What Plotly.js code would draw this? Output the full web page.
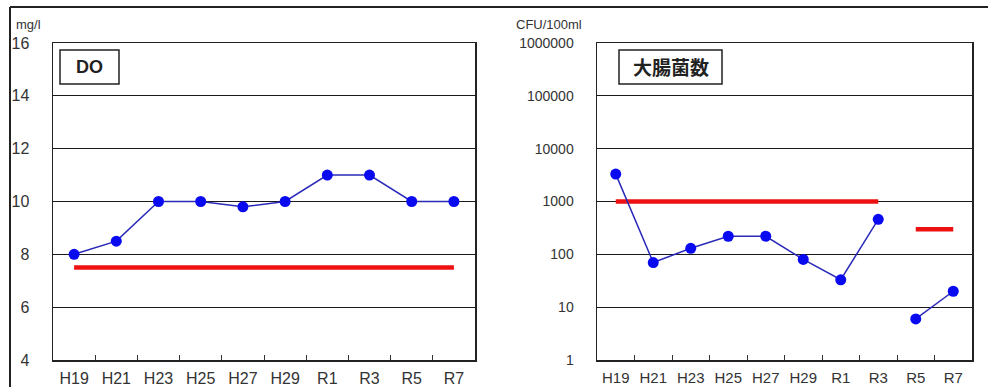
<!DOCTYPE html>
<html>
<head>
<meta charset="utf-8">
<script src="https://cdn.plot.ly/plotly-3.0.1.min.js"></script>
<style>html,body{margin:0;padding:0;background:#fff;}#chart{width:988px;height:387px;}</style>
</head>
<body>
<div id="chart"></div>
<script>
// ---- data ----
const categories = ['H19','H21','H23','H25','H27','H29','R1','R3','R5','R7'];
const doValues   = [8, 8.5, 10, 10, 9.8, 10, 11, 11, 10, 10];
const doStandard = [7.5, 7.5, 7.5, 7.5, 7.5, 7.5, 7.5, 7.5, 7.5, 7.5];
const ecoliValues   = [3300, 70, 130, 220, 220, 80, 33, 460, 6, 20];
const ecoliStandard = [1000, 1000, 1000, 1000, 1000, 1000, 1000, 1000, 300, 300];
const ecoliBreak = 8; // series restarts at R5
const doTicks = [4, 6, 8, 10, 12, 14, 16];
const ecoliTicks = [1, 10, 100, 1000, 10000, 100000, 1000000];
const ecoliTickText = ['1','10','100','1000','10000','100000','1000000'];

const W = 988, H = 387;
const px = x => x / W;
const py = y => 1 - y / H;

const blueLine = {color: '#2a2ab8', width: 1.5};
const blueMarker = {color: '#0a0af0', size: 11};
const redLine = {color: '#ee1111', width: 4.5};

const traces = [
  {x: categories, y: doStandard, xaxis: 'x', yaxis: 'y', mode: 'lines', line: redLine, hoverinfo: 'skip'},
  {x: categories, y: doValues, xaxis: 'x', yaxis: 'y', mode: 'lines+markers', line: blueLine, marker: blueMarker},
  {x: categories.slice(0, ecoliBreak), y: ecoliStandard.slice(0, ecoliBreak), xaxis: 'x2', yaxis: 'y2', mode: 'lines', line: redLine},
  {x: categories.slice(ecoliBreak), y: ecoliStandard.slice(ecoliBreak), xaxis: 'x2', yaxis: 'y2', mode: 'lines', line: redLine},
  {x: categories.slice(0, ecoliBreak), y: ecoliValues.slice(0, ecoliBreak), xaxis: 'x2', yaxis: 'y2', mode: 'lines+markers', line: blueLine, marker: blueMarker},
  {x: categories.slice(ecoliBreak), y: ecoliValues.slice(ecoliBreak), xaxis: 'x2', yaxis: 'y2', mode: 'lines+markers', line: blueLine, marker: blueMarker}
];

const fam = 'Liberation Sans, Arial, sans-serif';

const xBase = {
  type: 'category', categoryarray: categories, range: [-0.5, 9.5],
  showline: true, mirror: true, linecolor: '#222', linewidth: 1.5,
  ticks: 'inside', tickson: 'boundaries', ticklen: 5, tickcolor: '#333', tickwidth: 1,
  showgrid: false, tickangle: 0, ticklabelstandoff: 3, fixedrange: true
};
const yBase = {
  showline: true, mirror: true, linecolor: '#222', linewidth: 1.5,
  showgrid: true, gridcolor: '#1a1a1a', gridwidth: 1, ticks: '',
  zeroline: false, fixedrange: true
};

const layout = {
  width: W, height: H,
  margin: {l: 0, r: 0, t: 0, b: 0},
  paper_bgcolor: '#fff', plot_bgcolor: '#fff',
  showlegend: false,
  xaxis: Object.assign({}, xBase, {domain: [px(53), px(475)], anchor: 'y', tickfont: {family: fam, size: 16, color: '#333'}}),
  yaxis: Object.assign({}, yBase, {domain: [py(360), py(43)], anchor: 'x', range: [4, 16], tickvals: doTicks, ticklabelstandoff: 19, tickfont: {family: fam, size: 16, color: '#333'}}),
  xaxis2: Object.assign({}, xBase, {domain: [px(597), px(972)], anchor: 'y2', tickfont: {family: fam, size: 15, color: '#333'}}),
  yaxis2: Object.assign({}, yBase, {domain: [py(360), py(43)], anchor: 'x2', type: 'log', range: [0, 6], tickvals: ecoliTicks, ticktext: ecoliTickText, ticklabelstandoff: 19, tickfont: {family: fam, size: 14, color: '#333'}}),
  shapes: [
    {type: 'line', xref: 'paper', yref: 'paper', x0: px(10), x1: 1, y0: py(7), y1: py(7), line: {color: '#222', width: 2}},
    {type: 'line', xref: 'paper', yref: 'paper', x0: px(10), x1: px(10), y0: py(7), y1: 0, line: {color: '#222', width: 2}},
    {type: 'rect', xref: 'paper', yref: 'paper', x0: px(60), x1: px(119), y0: py(84), y1: py(50), line: {color: '#222', width: 1.5}, fillcolor: '#fff'},
    {type: 'rect', xref: 'paper', yref: 'paper', x0: px(619), x1: px(722), y0: py(84), y1: py(50), line: {color: '#222', width: 1.5}, fillcolor: '#fff'}
  ],
  annotations: [
    {xref: 'paper', yref: 'paper', x: px(89.5), y: py(67), text: '<b>DO</b>', showarrow: false, xanchor: 'center', yanchor: 'middle', font: {family: fam, size: 18, color: '#222'}},
    {xref: 'paper', yref: 'paper', x: px(670.5), y: py(67), text: '<b>大腸菌数</b>', showarrow: false, xanchor: 'center', yanchor: 'middle', font: {family: 'Noto Sans CJK JP, sans-serif', size: 19, color: '#222'}},
    {xref: 'paper', yref: 'paper', x: px(14), y: py(25), text: 'mg/l', showarrow: false, xanchor: 'left', yanchor: 'middle', font: {family: fam, size: 13, color: '#333'}},
    {xref: 'paper', yref: 'paper', x: px(514), y: py(25), text: 'CFU/100ml', showarrow: false, xanchor: 'left', yanchor: 'middle', font: {family: fam, size: 13, color: '#333'}}
  ]
};

Plotly.newPlot('chart', traces, layout, {displayModeBar: false, staticPlot: true});
</script>
</body>
</html>
